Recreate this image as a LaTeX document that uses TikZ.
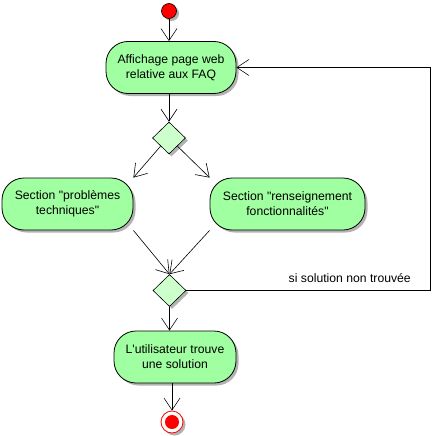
\documentclass[tikz,border=0pt]{standalone}
\usepackage{fontspec}
\setmainfont{Liberation Sans}[Ligatures=TeXOff]
\usetikzlibrary{shapes.geometric,arrows.meta,shadows}
\definecolor{actgreen}{HTML}{A0FFA0}
\definecolor{decgreen}{HTML}{CCFFCC}
\definecolor{umlred}{HTML}{FF0000}
\tikzset{
  shd/.style={drop shadow={shadow xshift=2.5pt,shadow yshift=-2.5pt,fill=black,opacity=0.3}},
  activity/.style={draw=black,line width=0.8pt,fill=actgreen,rounded corners=22pt,
    minimum height=52pt,align=center,inner sep=0pt,shd,
    font=\fontsize{12.2}{15}\selectfont},
  decision/.style={diamond,draw=black,line width=0.6pt,fill=decgreen,
    minimum width=33pt,minimum height=32pt,inner sep=0pt,shd},
  flow/.style={draw=black,line width=0.6pt,-{Straight Barb[length=12pt,width=16pt,line width=0.6pt]}},
  lbl/.style={font=\fontsize{12.2}{15}\selectfont,inner sep=0pt}
}
\begin{document}
\begin{tikzpicture}[x=1pt,y=-1pt]
\useasboundingbox[fill=white] (0,0) rectangle (436,436);
\node[circle,draw=black,line width=0.6pt,fill=umlred,minimum size=15pt,inner sep=0pt,shd] (s) at (169,11) {};
\node[activity,minimum width=130pt] (a1) at (171,67.5) {Affichage page web\\relative aux FAQ};
\node[decision] (d1) at (169,138) {};
\node[activity,minimum width=131pt] (a2) at (67.5,204) {Section "problèmes\\techniques"};
\node[activity,minimum width=155pt] (a4) at (287.5,204) {Section "renseignement\\fonctionnalités"};
\node[decision] (d2) at (169.5,290.5) {};
\node[activity,minimum width=122pt] (a3) at (175,357) {L'utilisateur trouve\\une solution};
\node[circle,draw=umlred,line width=0.8pt,fill=white,minimum size=22pt,inner sep=0pt,shd] (e) at (172,422) {};
\node[circle,fill=umlred,minimum size=14pt,inner sep=0pt] (ei) at (e.center) {};
\coordinate (c1) at (430,290.5);
\coordinate (c2) at (430,67.5);
\node[lbl,anchor=base east] (l) at (411,282) {si solution non trouvée};

\draw[flow] (s.south) -- (s.south |- a1.north);
\draw[flow] (d1.north |- a1.south) -- (d1.north);
\draw[flow] (d1.south west) -- (a2.north east);
\draw[flow] (d1.south east) -- (a4.north west);
\draw[flow] (a2.south east) -- (d2.north);
\draw[flow] (a4.south west) -- (d2.north);
\draw[flow] (d2.south) -- (d2.south |- a3.north);
\draw[flow] (e.north |- a3.south) -- (e.north);
\draw[flow] (d2.east) -- (c1) -- (c2) -- (a1.east);
\end{tikzpicture}
\end{document}
